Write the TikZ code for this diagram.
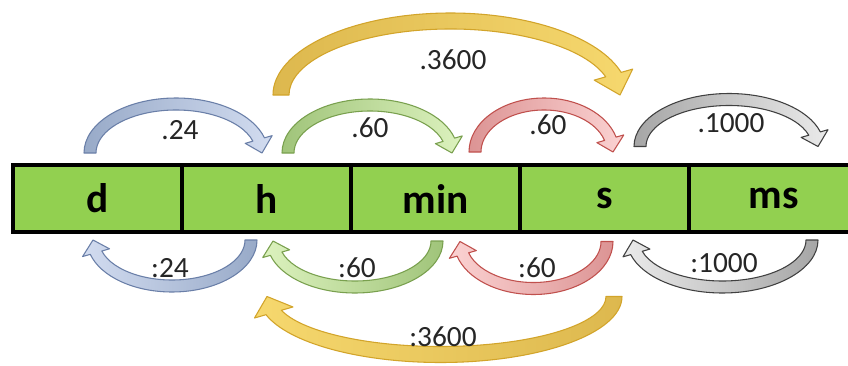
\documentclass[tikz,border=0pt]{standalone}
\usepackage{fontspec}
\setmainfont{Carlito}
\usepackage{tikz}
\usetikzlibrary{calc,positioning}

\definecolor{barfill}{HTML}{92D050}
\definecolor{bluetail}{HTML}{98AAC8}
\definecolor{bluehead}{HTML}{D2DCF0}
\definecolor{blueline}{HTML}{6A7FA8}
\definecolor{greentail}{HTML}{A0C47A}
\definecolor{greenhead}{HTML}{DCF2BE}
\definecolor{greenline}{HTML}{79A04E}
\definecolor{redtail}{HTML}{DC9494}
\definecolor{redhead}{HTML}{FBD2D2}
\definecolor{redline}{HTML}{C0504D}
\definecolor{graytail}{HTML}{A6A6A6}
\definecolor{grayhead}{HTML}{EAEAEA}
\definecolor{grayline}{HTML}{404040}
\definecolor{yellowtail}{HTML}{DDB84E}
\definecolor{yellowhead}{HTML}{F6D86E}
\definecolor{yellowline}{HTML}{D2A42A}

% curved block arrow: style, tail, tip, height, start angle, half band, half head
\newcommand{\bentarrow}[7]{%
  \path[#1] let \p1=(#2), \p2=(#3),
    \n1={abs(\x2-\x1)/2}, \n2={#4*0.75pt}, \n3={#6*0.75pt}, \n4={#7*0.75pt},
    \n5={#5-164}, \n6={(\x1+\x2)/2}, \n7={(\y1+\y2)/2} in
    ({\n6+(\n1+\n3)*cos(#5)},{\n7+(\n2+\n3)*sin(#5)})
    arc[start angle=#5, end angle=\n5, x radius={\n1+\n3}, y radius={\n2+\n3}]
    -- ({\n6+(\n1+\n4)*cos(\n5)},{\n7+(\n2+\n4)*sin(\n5)})
    -- ({\n6+\n1*cos(#5-180)},{\n7+\n2*sin(#5-180)})
    -- ({\n6+(\n1-\n4)*cos(\n5)},{\n7+(\n2-\n4)*sin(\n5)})
    -- ({\n6+(\n1-\n3)*cos(\n5)},{\n7+(\n2-\n3)*sin(\n5)})
    arc[start angle=\n5, end angle=#5, x radius={\n1-\n3}, y radius={\n2-\n3}]
    -- cycle;}

\begin{document}
\begin{tikzpicture}[x=0.75pt, y=0.75pt,
    cell/.style={draw=black, line width=3pt, fill=barfill, outer sep=0pt,
      inner sep=0pt, minimum width=126.75pt, minimum height=50.25pt,
      font=\bfseries\fontsize{31}{31}\selectfont},
    lbl/.style={font=\fontsize{22}{22}\selectfont, text=black!85},
    fwd/.style={draw=#1line, line width=0.8pt, line join=round,
      left color=#1tail, right color=#1head},
    back/.style={draw=#1line, line width=0.8pt, line join=round,
      left color=#1head, right color=#1tail}]

  \useasboundingbox (0,0) rectangle (848,365);
  \fill[white] (0,0) rectangle (848,365);
  \clip (0,0) rectangle (848,365);

  % the bar of units
  \node[cell] (d) at (97.5,166.5) {d};
  \node[cell, right=0pt of d] (h) {h};
  \node[cell, right=0pt of h] (min) {min};
  \node[cell, right=0pt of min] (s) {s};
  \node[cell, right=0pt of s] (ms) {ms};

  % multiply, above the bar
  \bentarrow{fwd=yellow}{$(h.north)+(14.5,70)$}{$(s.north)+(15.5,70)$}{74}{180}{8}{20}
  \bentarrow{fwd=blue}{$(d.north)+(-7.5,12)$}{$(h.north)+(-4.5,12)$}{49}{180}{6}{14}
  \bentarrow{fwd=green}{$(h.north)+(21.5,12)$}{$(min.north)+(16.5,12)$}{48}{180}{6}{14}
  \bentarrow{fwd=red}{$(min.north)+(39.5,13)$}{$(s.north)+(8.5,13)$}{48}{180}{6}{14}
  \bentarrow{fwd=gray}{$(s.north)+(35.5,17)$}{$(ms.north)+(44.5,20)$}{47}{180}{6}{14}

  % divide, below the bar
  \bentarrow{back=yellow}{$(s.south)+(9.5,-61)$}{$(h.south)+(0.5,-68)$}{58}{0}{8}{20}
  \bentarrow{back=blue}{$(h.south)+(-15.5,-8)$}{$(d.south)+(-4.5,-8)$}{46}{0}{6}{14}
  \bentarrow{back=green}{$(min.south)+(1.5,-8)$}{$(h.south)+(6.5,-10)$}{46}{0}{6}{14}
  \bentarrow{back=red}{$(s.south)+(2.5,-8)$}{$(min.south)+(24.5,-11)$}{47}{0}{6}{14}
  \bentarrow{back=gray}{$(ms.south)+(38.5,-5)$}{$(s.south)+(28.5,-11)$}{47}{0}{6}{14}

  \node[lbl] (dh) at (180,235) {.24};
  \node[lbl] (hmin) at (370,237) {.60};
  \node[lbl] (mins) at (548,240) {.60};
  \node[lbl] (sms) at (731,242) {.1000};
  \node[lbl] (hs) at (453,305) {.3600};
  \node[lbl] (hd) at (170,97) {:24};
  \node[lbl] (minh) at (357,97) {:60};
  \node[lbl] (smin) at (537,97) {:60};
  \node[lbl] (mss) at (724,102) {:1000};
  \node[lbl] (sh) at (443,28) {:3600};
\end{tikzpicture}
\end{document}
